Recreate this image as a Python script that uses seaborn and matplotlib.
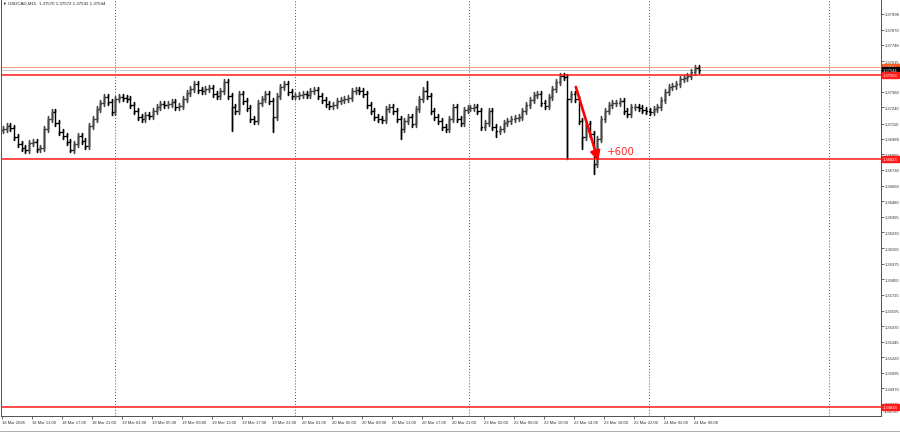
import pandas as pd
import seaborn as sns
import matplotlib.pyplot as plt
from matplotlib.lines import Line2D

# --- données : USDCAD M15, clôtures par demi-heure ---
day_starts = [0, 60, 156, 249, 345]   # index M15 du début de chaque séance
day1 = [1.37066, 1.37090, 1.37074, 1.37001, 1.36944, 1.36912, 1.36896, 1.36952, 1.36960, 1.36904,
        1.36910, 1.37066, 1.37147, 1.37203, 1.37114, 1.37041, 1.37009, 1.36960, 1.36896, 1.36944,
        1.37009, 1.36969, 1.36928, 1.37090, 1.37147, 1.37227, 1.37276, 1.37325, 1.37284, 1.37203]
day2 = [1.37308, 1.37325, 1.37320, 1.37308, 1.37260, 1.37211, 1.37163, 1.37147, 1.37179, 1.37171,
        1.37211, 1.37244, 1.37268, 1.37260, 1.37268, 1.37284, 1.37244, 1.37252, 1.37308, 1.37357,
        1.37389, 1.37430, 1.37381, 1.37373, 1.37389, 1.37397, 1.37349, 1.37333, 1.37373, 1.37446,
        1.37333, 1.37244, 1.37211, 1.37349, 1.37292, 1.37236, 1.37147, 1.37130, 1.37276, 1.37308,
        1.37349, 1.37292, 1.37163, 1.37333, 1.37405, 1.37430, 1.37365, 1.37333]
day3 = [1.37333, 1.37341, 1.37349, 1.37341, 1.37373, 1.37381, 1.37333, 1.37300, 1.37268, 1.37252,
        1.37260, 1.37292, 1.37300, 1.37308, 1.37316, 1.37373, 1.37381, 1.37373, 1.37349, 1.37260,
        1.37211, 1.37163, 1.37147, 1.37138, 1.37227, 1.37244, 1.37211, 1.37147, 1.37066, 1.37130,
        1.37163, 1.37106, 1.37227, 1.37308, 1.37373, 1.37333, 1.37211, 1.37163, 1.37130, 1.37082,
        1.37066, 1.37147, 1.37244, 1.37147, 1.37114, 1.37219, 1.37236]
day4 = [1.37236, 1.37244, 1.37211, 1.37082, 1.37114, 1.37211, 1.37082, 1.37049, 1.37066, 1.37114,
        1.37130, 1.37147, 1.37155, 1.37163, 1.37211, 1.37260, 1.37300, 1.37341, 1.37349, 1.37276,
        1.37252, 1.37325, 1.37389, 1.37446, 1.37494, 1.37490, 1.37308, 1.37349, 1.37308, 1.37130,
        1.37001, 1.37106, 1.37025, 1.36783, 1.36985, 1.37147, 1.37211, 1.37260, 1.37276, 1.37276,
        1.37292, 1.37211, 1.37187, 1.37244, 1.37244, 1.37236, 1.37219, 1.37211]
day5 = [1.37203, 1.37227, 1.37244, 1.37300, 1.37365, 1.37405, 1.37414, 1.37430, 1.37470, 1.37478,
        1.37494, 1.37527, 1.37559, 1.37544]
first_open = 1.37060
wick = 0.00024
# mèches longues visibles (index de barre -> prix)
spike_low = {9: 1.36880, 18: 1.36880, 61: 1.37049, 72: 1.37041, 106: 1.36985,
             132: 1.37001, 151: 1.36823, 155: 1.36904, 158: 1.36702}
spike_high = {112: 1.37405, 113: 1.37454, 150: 1.37520}

# niveaux tracés
levels_red = [1.37503, 1.36823, 1.34818]
ask_level = 1.37566
bid_level = 1.37544

yticks = [1.37996, 1.37870, 1.37748, 1.37615, 1.37488, 1.37368, 1.37240, 1.37110, 1.36988,
          1.36860, 1.36738, 1.36608, 1.36480, 1.36355, 1.36230, 1.36100, 1.35975, 1.35850,
          1.35725, 1.35595, 1.35470, 1.35345, 1.35220, 1.35095, 1.34970, 1.34845]
xtick_pos = [0, 16, 32, 48, 64, 80, 96, 112, 128, 144, 160, 176, 192, 208, 224, 240,
             257, 273, 289, 305, 321, 337, 353, 369]
xtick_labels = ['18 Mar 2026', '18 Mar 13:00', '18 Mar 17:00', '18 Mar 21:00', '19 Mar 01:00',
                '19 Mar 05:00', '19 Mar 09:00', '19 Mar 13:00', '19 Mar 17:00', '19 Mar 21:00',
                '20 Mar 01:00', '20 Mar 05:00', '20 Mar 09:00', '20 Mar 13:00', '20 Mar 17:00',
                '20 Mar 21:00', '23 Mar 02:00', '23 Mar 06:00', '23 Mar 10:00', '23 Mar 14:00',
                '23 Mar 18:00', '23 Mar 22:00', '24 Mar 02:00', '24 Mar 06:00']
separators = [60, 156, 249, 345, 441]

# flèche et texte "+600"
arrow_start = (306, 1.37406)
arrow_end = (318, 1.36807)
gain_pos = (330, 1.36888)

# --- construction des barres OHLC ---
days = [day1, day2, day3, day4, day5]
rows = []
prev = first_open
i = 0
for start, closes in zip(day_starts, days):
    for k, c in enumerate(closes):
        x = start + 2 * k + 0.5
        o = prev
        h = spike_high.get(i, max(o, c) + wick)
        l = spike_low.get(i, min(o, c) - wick)
        sens = 'hausse' if c >= o else 'baisse'
        for px, py in [(x - 0.7, o), (x, o), (x, h), (x, l), (x, c), (x + 0.7, c)]:
            rows.append({'bar': i, 'x': px, 'prix': py, 'sens': sens})
        prev = c
        i += 1
df = pd.DataFrame(rows)

sns.set_style('white')
plt.rcParams['font.family'] = ['Liberation Sans', 'DejaVu Sans']

fig = plt.figure(figsize=(9, 4.35), dpi=100)
ax = fig.add_axes([0.0006, 18 / 435, 880 / 900, 417 / 435])

sns.lineplot(data=df, x='x', y='prix', units='bar', estimator=None, hue='sens',
             palette={'hausse': '#454545', 'baisse': 'black'}, sort=False,
             legend=False, lw=1.0, ax=ax)

for s in separators:
    ax.axvline(s, color='#505050', ls=(0, (1, 2)), lw=0.7, zorder=1)

ax.axhline(ask_level, color='#f5a07c', lw=0.7, zorder=1)
ax.axhline(bid_level, color='#c8c8c8', lw=0.7, zorder=1)
for lv in levels_red:
    ax.axhline(lv, color='#ff1a1a', lw=1.1, zorder=4)

ax.annotate('', xy=arrow_end, xytext=arrow_start,
            arrowprops=dict(arrowstyle='-|>,head_length=0.55,head_width=0.28',
                            color='#ff0000', lw=1.9, shrinkA=0, shrinkB=0), zorder=5)
ax.text(gain_pos[0], gain_pos[1], '+600', color='#ff2a2a', fontsize=7.3,
        ha='center', va='center', family='DejaVu Sans')

ax.set_xlim(-0.8, 468.5)
ax.set_ylim(1.34745, 1.38117)
ax.set_xlabel('')
ax.set_ylabel('')

ax.yaxis.tick_right()
ax.set_yticks(yticks)
ax.set_yticklabels([f'{v:.5f}' for v in yticks])
ax.set_xticks(xtick_pos)
ax.set_xticklabels(xtick_labels)
for lab in ax.get_xticklabels():
    lab.set_ha('left')
ax.tick_params(axis='y', right=True, length=2, width=0.5, pad=1.2, labelsize=3,
               colors='#303030')
ax.tick_params(axis='x', bottom=True, length=2, width=0.5, pad=1.2, labelsize=3,
               colors='#303030')

for side in ['left', 'right', 'bottom']:
    ax.spines[side].set_color('#505050')
    ax.spines[side].set_linewidth(0.7)
ax.spines['top'].set_visible(False)

# étiquettes de prix sur l'axe
ytr = ax.get_yaxis_transform()
price_tags = [(ask_level, '#ff5a1f'), (bid_level, 'black')] + [(lv, '#ff1a1a') for lv in levels_red]
for lv, col in price_tags:
    ax.text(1.003, lv, f'{lv:.5f}', transform=ytr, ha='left', va='center', fontsize=3,
            color='white', clip_on=False, zorder=6,
            bbox=dict(boxstyle='square,pad=0.18', fc=col, ec=col))
ax.text(1.004, 0.012, '1.34720', transform=ax.transAxes, ha='left', va='center',
        fontsize=3, color='#303030', clip_on=False)

# titre MT4
fig.text(2 / 900, 1 - 4 / 435, '▼', fontsize=2.6, va='center', ha='left', color='black')
fig.text(8 / 900, 1 - 4 / 435, 'USDCAD,M15  1.37570 1.37572 1.37542 1.37544',
         fontsize=3.2, va='center', ha='left', color='#202020')

fig.add_artist(Line2D([0, 1], [3 / 435, 3 / 435], color='#a0a0a0', lw=0.6))

fig.savefig('out.png', dpi=100, facecolor='white')
